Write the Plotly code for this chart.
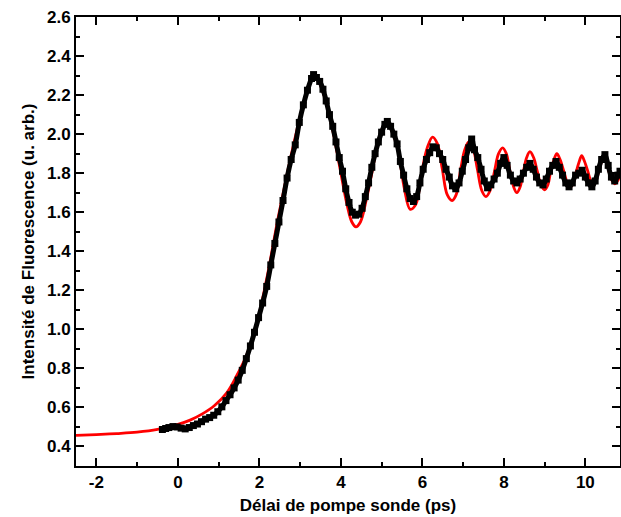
import plotly.graph_objects as go

# Fit curve (red)
fit_x = [-2.5, -2.0, -1.5, -1.0, -0.5, 0.0, 0.3, 0.6, 0.9, 1.2, 1.45, 1.7, 1.95, 2.2, 2.45, 2.7,
         2.92, 3.1, 3.25, 3.33, 3.45, 3.6, 3.8, 4.0, 4.15, 4.27, 4.37, 4.48, 4.62, 4.75, 4.9, 5.0, 5.1,
         5.22, 5.4, 5.55, 5.7, 5.84, 5.98, 6.12, 6.25, 6.37, 6.49, 6.61, 6.73, 6.83, 6.94, 7.04, 7.14,
         7.24, 7.35, 7.46, 7.56, 7.66, 7.77, 7.87, 7.97, 8.06, 8.15, 8.24, 8.32, 8.40, 8.48, 8.56, 8.64,
         8.73, 8.82, 8.91, 9.0, 9.08, 9.15, 9.23, 9.30, 9.38, 9.47, 9.56, 9.64, 9.71, 9.78, 9.85, 9.91,
         9.98, 10.06, 10.13, 10.19, 10.26, 10.33, 10.40, 10.46, 10.53, 10.59, 10.66, 10.72, 10.79, 10.85]
fit_y = [0.457, 0.461, 0.466, 0.473, 0.487, 0.513, 0.535, 0.567, 0.61, 0.675, 0.765, 0.875, 1.04, 1.28, 1.56, 1.815,
         2.02, 2.17, 2.265, 2.29, 2.27, 2.19, 2.02, 1.80, 1.64, 1.55, 1.525, 1.55, 1.66, 1.79, 1.95, 2.02, 2.058,
         2.03, 1.92, 1.73, 1.615, 1.64, 1.80, 1.93, 1.985, 1.95, 1.82, 1.69, 1.66, 1.69, 1.82, 1.92, 1.96,
         1.93, 1.82, 1.71, 1.68, 1.71, 1.81, 1.90, 1.93, 1.90, 1.81, 1.73, 1.70, 1.73, 1.81, 1.88, 1.91,
         1.88, 1.81, 1.74, 1.715, 1.74, 1.81, 1.87, 1.90, 1.87, 1.81, 1.75, 1.73, 1.75, 1.81, 1.86, 1.89,
         1.86, 1.81, 1.76, 1.735, 1.76, 1.81, 1.86, 1.88, 1.85, 1.80, 1.76, 1.745, 1.76, 1.79]

# Measured data (black squares)
data_x = [-0.38, -0.30, -0.22, -0.12, -0.02, 0.08, 0.18, 0.28, 0.38, 0.48, 0.58, 0.68, 0.78, 0.88, 0.98,
          1.08, 1.18, 1.28, 1.38, 1.48, 1.58, 1.68, 1.78, 1.88, 1.98, 2.08, 2.18, 2.28, 2.38, 2.48, 2.58,
          2.68, 2.78, 2.88, 2.98, 3.08, 3.18, 3.28, 3.33, 3.40, 3.48, 3.56, 3.64, 3.72, 3.80, 3.88, 3.96,
          4.04, 4.12, 4.20, 4.28, 4.36, 4.44, 4.52, 4.60, 4.68, 4.76, 4.84, 4.92, 5.00, 5.08, 5.14, 5.22,
          5.30, 5.38, 5.46, 5.54, 5.62, 5.70, 5.78, 5.86, 5.94, 6.02, 6.10, 6.18, 6.26, 6.34, 6.42, 6.50,
          6.58, 6.66, 6.74, 6.82, 6.90, 6.98, 7.06, 7.14, 7.21, 7.28, 7.36, 7.44, 7.52, 7.60, 7.68, 7.76,
          7.84, 7.92, 8.00, 8.08, 8.16, 8.24, 8.32, 8.40, 8.48, 8.56, 8.64, 8.72, 8.80, 8.88, 8.96, 9.04,
          9.12, 9.20, 9.28, 9.36, 9.44, 9.52, 9.60, 9.68, 9.76, 9.84, 9.92, 10.00, 10.08, 10.16, 10.24,
          10.32, 10.40, 10.48, 10.56, 10.64, 10.72, 10.80, 10.85]
data_y = [0.487, 0.492, 0.497, 0.502, 0.500, 0.494, 0.490, 0.497, 0.507, 0.515, 0.527, 0.540, 0.548, 0.560, 0.578,
          0.603, 0.635, 0.665, 0.700, 0.740, 0.790, 0.850, 0.915, 0.985, 1.060, 1.135, 1.220, 1.330, 1.440, 1.550, 1.660,
          1.775, 1.870, 1.945, 2.060, 2.150, 2.225, 2.285, 2.305, 2.290, 2.270, 2.230, 2.170, 2.100, 2.040, 1.960, 1.880,
          1.810, 1.720, 1.650, 1.600, 1.585, 1.590, 1.620, 1.680, 1.750, 1.830, 1.900, 1.960, 2.010, 2.050, 2.065, 2.040,
          2.000, 1.950, 1.860, 1.790, 1.720, 1.670, 1.655, 1.680, 1.750, 1.820, 1.870, 1.905, 1.935, 1.930, 1.900, 1.870,
          1.820, 1.780, 1.735, 1.720, 1.750, 1.810, 1.870, 1.930, 1.975, 1.920, 1.880, 1.820, 1.760, 1.725, 1.740, 1.770,
          1.800, 1.850, 1.880, 1.840, 1.790, 1.760, 1.750, 1.770, 1.800, 1.830, 1.850, 1.820, 1.780, 1.750, 1.740, 1.770,
          1.810, 1.840, 1.860, 1.830, 1.790, 1.750, 1.730, 1.750, 1.790, 1.800, 1.815, 1.780, 1.750, 1.730, 1.760,
          1.820, 1.870, 1.895, 1.840, 1.780, 1.760, 1.790, 1.810]

# Tick labels
x_tickvals = [-2, 0, 2, 4, 6, 8, 10]
x_ticktext = ["-2", "0", "2", "4", "6", "8", "10"]
y_tickvals = [0.4, 0.6, 0.8, 1.0, 1.2, 1.4, 1.6, 1.8, 2.0, 2.2, 2.4, 2.6]
y_ticktext = ["0.4", "0.6", "0.8", "1.0", "1.2", "1.4", "1.6", "1.8", "2.0", "2.2", "2.4", "2.6"]

font_family = "Liberation Sans, Arial, sans-serif"

fig = go.Figure()
fig.add_trace(go.Scatter(x=fit_x, y=fit_y, mode="lines", line=dict(color="#ff0000", width=2.8, shape="spline"),
                         showlegend=False, hoverinfo="skip"))
fig.add_trace(go.Scatter(x=data_x, y=data_y, mode="lines+markers",
                         line=dict(color="black", width=5, shape="spline"),
                         marker=dict(symbol="square", size=7, color="black"),
                         showlegend=False))

axis_common = dict(
    showline=True, linewidth=2, linecolor="black", mirror="ticks",
    ticks="inside", ticklen=8, tickwidth=1.5, tickcolor="black",
    showgrid=False, zeroline=False, automargin=False,
    tickfont=dict(family=font_family, size=17, color="black", weight="bold"),
)

fig.update_xaxes(range=[-2.5, 10.85], tickmode="array", tickvals=x_tickvals, ticktext=x_ticktext,
                 minor=dict(ticks="inside", ticklen=4, tickwidth=1.5, tickcolor="black", dtick=1, tick0=0, showgrid=False),
                 title=dict(text="<b>Délai de pompe sonde (ps)</b>", font=dict(family=font_family, size=17, color="black"),
                            standoff=8),
                 **axis_common)
fig.update_yaxes(range=[0.3, 2.6], tickmode="array", tickvals=y_tickvals, ticktext=y_ticktext,
                 minor=dict(ticks="inside", ticklen=4, tickwidth=1.5, tickcolor="black", dtick=0.1, tick0=0, showgrid=False),
                 title=dict(text="<b>Intensité de Fluorescence (u. arb.)</b>", font=dict(family=font_family, size=17, color="black"),
                            standoff=8),
                 **axis_common)

fig.update_layout(width=621, height=517, margin=dict(l=76, r=1, t=17, b=51),
                  plot_bgcolor="white", paper_bgcolor="white",
                  font=dict(family=font_family, color="black"))

fig.write_html("out.html", config={"displayModeBar": False},
               post_script="document.body.style.margin='0';document.body.style.padding='0';document.body.style.overflow='hidden';")
